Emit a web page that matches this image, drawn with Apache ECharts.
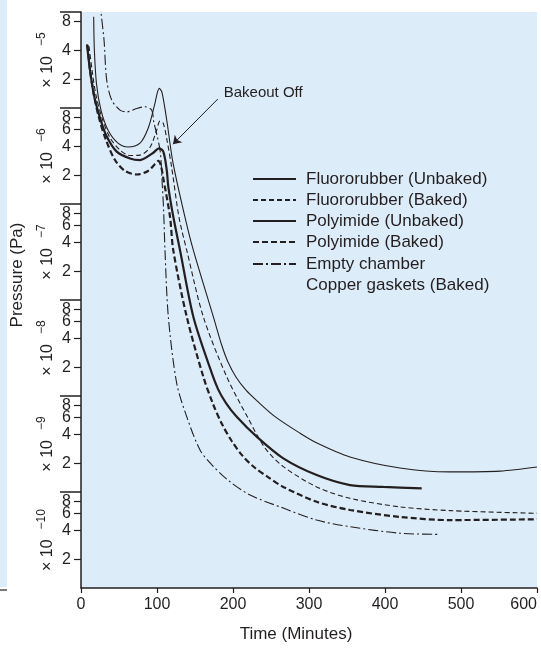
<!DOCTYPE html>
<html><head><meta charset="utf-8">
<script src="https://cdn.jsdelivr.net/npm/echarts@6/dist/echarts.min.js"></script>
<style>html,body{margin:0;padding:0;background:#fff}#c{width:541px;height:648px}</style>
</head><body><div id="c"></div>
<script>
// ---- data (time in minutes, pressure in Pa) ----
const timeTicks = [0, 100, 200, 300, 400, 500, 600];
const seriesNames = ['Fluororubber (Unbaked)', 'Fluororubber (Baked)', 'Polyimide (Unbaked)', 'Polyimide (Baked)', 'Empty chamber\nCopper gaskets (Baked)'];
const fluoroUnbaked = [[16.7,8.9e-5],[17.6,4.0e-5],[20.5,1.75e-5],[26.3,9.5e-6],[35.5,5.9e-6],[48.7,4.3e-6],[61.8,3.93e-6],[77.6,4.3e-6],[88.5,6.2e-6],[96.5,1.05e-5],[103,1.6e-5],[106.6,1.45e-5],[112.8,7.5e-6],[121,2.7e-6],[136.8,7.3e-7],[147.8,3.3e-7],[174.1,6.7e-8],[185.1,3.4e-8],[193.4,2.26e-8],[203.9,1.58e-8],[217.1,1.15e-8],[231.6,8.9e-9],[255.3,6.1e-9],[288.2,4.1e-9],[310.5,3.24e-9],[353.9,2.32e-9],[419.7,1.78e-9],[485.5,1.62e-9],[551.3,1.65e-9],[600,1.82e-9]];
const fluoroBaked = [[10.5,4.4e-5],[14.5,2.5e-5],[19.7,1.36e-5],[27.6,7.9e-6],[38.2,4.9e-6],[51.3,3.65e-6],[64.5,3.2e-6],[77.6,3.23e-6],[90.8,3.9e-6],[99.6,5.9e-6],[103.9,7.3e-6],[108.3,6.9e-6],[113.2,4.6e-6],[119.7,2.3e-6],[128.9,7.3e-7],[139.1,3.3e-7],[160.9,6.7e-8],[191.7,1.59e-8],[219.7,5.9e-9],[242.1,2.87e-9],[266.2,1.84e-9],[310.1,1.13e-9],[353.9,8.6e-10],[419.7,7.0e-10],[485.5,6.4e-10],[600,6.0e-10]];
const polyUnbaked = [[7.9,4.6e-5],[11.8,2.5e-5],[17.1,1.36e-5],[25,7.9e-6],[32.9,5.24e-6],[47,3.51e-6],[64.5,2.98e-6],[77.6,2.87e-6],[94.7,3.4e-6],[102.6,3.8e-6],[108.3,3.51e-6],[112.8,2.26e-6],[114.9,1.51e-6],[121.4,7.4e-7],[130.3,3.3e-7],[147.8,6.7e-8],[169.7,1.96e-8],[180.3,1.18e-8],[190.8,8.45e-9],[204.9,6.08e-9],[231.2,3.77e-9],[266.2,2.24e-9],[310.1,1.5e-9],[353.9,1.18e-9],[397.8,1.13e-9],[448.3,1.09e-9]];
const polyBaked = [[8.6,4.5e-5],[11.8,2.5e-5],[17.1,1.36e-5],[23.7,7.9e-6],[32.9,4.64e-6],[44.7,2.87e-6],[57.9,2.21e-6],[73.7,2.03e-6],[88.2,2.21e-6],[97.4,2.61e-6],[101.7,2.81e-6],[105.3,2.49e-6],[107.9,1.92e-6],[117.1,7.4e-7],[121.4,3.3e-7],[139.1,6.7e-8],[160.9,1.59e-8],[173.7,8.26e-9],[185.5,5.1e-9],[198.3,3.4e-9],[211.8,2.42e-9],[227.6,1.82e-9],[246.1,1.43e-9],[266.2,1.13e-9],[310.1,7.9e-10],[353.9,6.5e-10],[419.7,5.5e-10],[485.5,5.1e-10],[600,5.2e-10]];
const emptyChamber = [[25.5,1.3e-4],[26.3,1.0e-4],[30.3,5.1e-5],[33.8,1.96e-5],[40.4,1.21e-5],[51.3,9.5e-6],[60.1,9.1e-6],[73.3,9.9e-6],[84.2,1.03e-5],[93,9.5e-6],[95.7,7.2e-6],[100,5.2e-6],[104.3,3.5e-6],[106.6,1.78e-6],[108.8,8.3e-7],[110.5,3.3e-7],[114.9,6.7e-8],[125.9,1.36e-8],[139.1,6.1e-9],[156.6,2.74e-9],[172.4,1.91e-9],[193.4,1.33e-9],[222.4,9.3e-10],[266.2,6.8e-10],[310.1,5.1e-10],[353.9,4.35e-10],[419.7,3.72e-10],[472.4,3.62e-10]];
const decadeExponents = [-10, -9, -8, -7, -6, -5];
const minorDigits = [2, 4, 6, 8];
const annotationText = 'Bakeout Off';
const arrowFrom = [180, 1.24e-5];
const arrowTo = [121, 4.2e-6];
const annotationAt = [182.5, 1.43e-5];

// ---- derived tick positions (log10 space for decoration axes) ----
const minorPos = [];
decadeExponents.forEach(e => minorDigits.forEach(d => minorPos.push(e + Math.log10(d))));
const decadeLinePos = decadeExponents.map(e => e + 1);
const exponentLabelPos = decadeExponents.map(e => e + 0.5);

const INK = '#231f20';
const BG = '#dcecf8';
const FONT = 'Liberation Sans, Arial, Helvetica, sans-serif';

const styles = [
  {width: 1.1, type: 'solid'},
  {width: 1.1, type: [5, 3]},
  {width: 2.2, type: 'solid'},
  {width: 2.2, type: [6, 3]},
  {width: 1.1, type: [10, 3, 2, 3]}
];
const datasets = [fluoroUnbaked, fluoroBaked, polyUnbaked, polyBaked, emptyChamber];

const decoAxis = (extra) => Object.assign({
  type: 'value', min: -10, max: -4, position: 'left', offset: 0,
  axisLine: {show: false}, splitLine: {show: false},
  axisTick: {show: false}, axisLabel: {show: false}
}, extra);

const series = datasets.map((d, i) => ({
  type: 'line', name: seriesNames[i], data: d,
  xAxisIndex: 0, yAxisIndex: 0,
  symbol: 'none', showSymbol: false, smooth: 0.3,
  lineStyle: {color: INK, width: styles[i].width, type: styles[i].type},
  itemStyle: {color: INK},
  z: 3
}));
series[1].markLine = {
  silent: true, symbol: ['none', 'arrow'], symbolSize: 8,
  lineStyle: {color: INK, width: 1, type: 'solid'},
  label: {show: false},
  data: [[{coord: arrowFrom}, {coord: arrowTo}]]
};
series[1].markPoint = {
  silent: true,
  data: [{coord: annotationAt, symbol: 'circle', symbolSize: 0,
    label: {show: true, position: 'right', distance: 4, formatter: annotationText,
      fontSize: 15, color: INK, fontFamily: FONT}}]
};

const legendCommon = {
  orient: 'vertical', left: 252, padding: 0, itemWidth: 43, itemHeight: 12, itemGap: 0,
  selectedMode: false,
  itemStyle: {opacity: 0},
  textStyle: {fontSize: 17, lineHeight: 21, color: INK, fontFamily: FONT, padding: [0, 0, 0, 5]}
};

const option = {
  animation: false,
  textStyle: {fontFamily: FONT},
  grid: {left: 81, right: 4, top: 12, bottom: 60, show: true, backgroundColor: BG, borderWidth: 0,
    containLabel: false, outerBoundsMode: 'none'},
  graphic: [
    {type: 'rect', left: 0, top: 0, shape: {width: 7, height: 587}, style: {fill: BG}, silent: true},
    {type: 'line', shape: {x1: 0, y1: 590, x2: 7, y2: 590}, style: {stroke: INK, lineWidth: 1.2}, silent: true}
  ],
  legend: [
    Object.assign({top: 168.5, data: seriesNames.slice(0, 4)}, legendCommon),
    Object.assign({top: 232.5, data: seriesNames.slice(4), formatter: n => '\n' + n}, legendCommon)
  ],
  xAxis: {
    type: 'value', min: 0, max: 600, interval: 100,
    axisLine: {show: true, lineStyle: {color: INK, width: 1.5}},
    axisTick: {show: true, length: 5, customValues: timeTicks, lineStyle: {color: INK, width: 1.2}},
    axisLabel: {customValues: timeTicks, fontSize: 16, color: INK, margin: 9,
      showMinLabel: true, showMaxLabel: true, alignMaxLabel: 'right'},
    splitLine: {show: false},
    name: 'Time (Minutes)', nameLocation: 'middle', nameGap: 38,
    nameTextStyle: {fontSize: 17, color: INK, padding: [0, 26, 0, 0]}
  },
  yAxis: [
    {
      type: 'log', logBase: 10, min: 1e-10, max: 1e-4, position: 'left',
      axisLine: {show: true, lineStyle: {color: INK, width: 1.5}},
      axisTick: {show: false}, axisLabel: {show: false}, splitLine: {show: false},
      name: 'Pressure (Pa)', nameLocation: 'middle', nameGap: 55,
      nameTextStyle: {fontSize: 17, color: INK, padding: [0, 0, 0, 50]}
    },
    decoAxis({
      axisTick: {show: true, length: 7, customValues: minorPos, lineStyle: {color: INK, width: 1.2}},
      axisLabel: {show: true, customValues: minorPos, margin: 10, fontSize: 16, color: INK,
        showMinLabel: true, showMaxLabel: true, hideOverlap: false,
        formatter: v => String(Math.round(Math.pow(10, v - Math.floor(v + 1e-9))))}
    }),
    decoAxis({
      axisTick: {show: true, length: 21, customValues: decadeLinePos, lineStyle: {color: INK, width: 1.5}}
    }),
    decoAxis({
      axisLabel: {show: true, customValues: exponentLabelPos, rotate: 90, margin: 25, color: INK,
        showMinLabel: true, showMaxLabel: true,
        formatter: v => '{a|× 10}{b|   −' + (-Math.floor(v)) + '}',
        rich: {
          a: {fontSize: 16, color: INK, fontFamily: FONT, verticalAlign: 'bottom'},
          b: {fontSize: 12, color: INK, fontFamily: FONT, verticalAlign: 'bottom', padding: [0, 0, 8, 0]}
        }}
    })
  ],
  series: series
};

const chart = echarts.init(document.getElementById('c'), null, {renderer: 'canvas'});
chart.setOption(option);
</script>
</body></html>
